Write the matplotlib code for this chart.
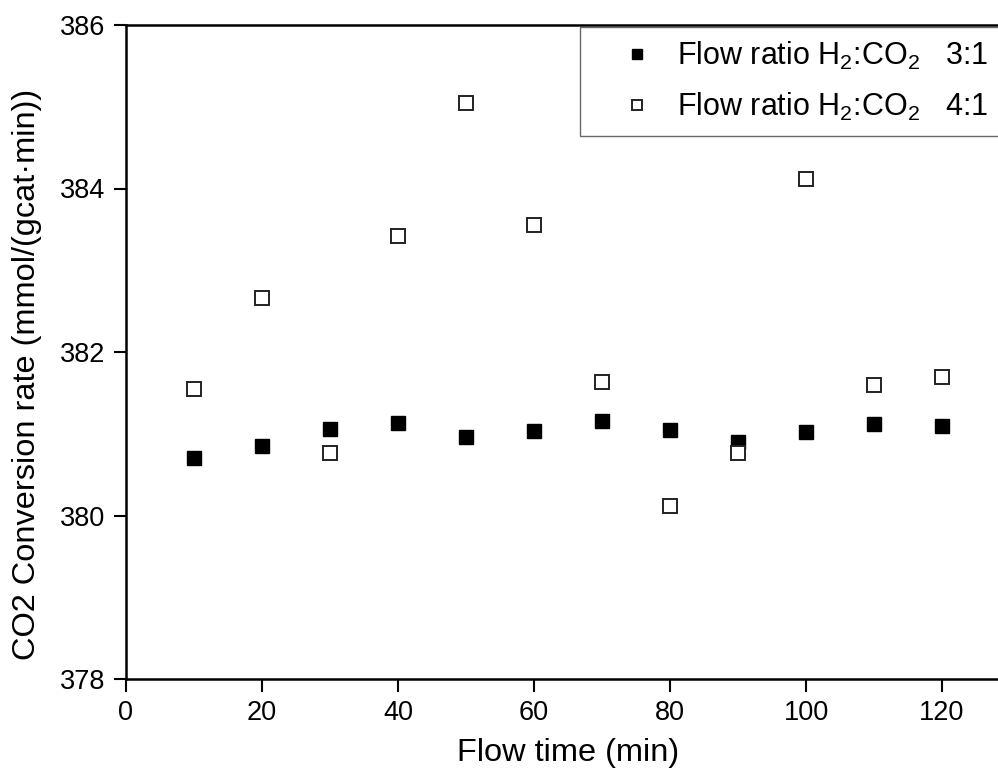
import matplotlib
matplotlib.use("Agg")
import matplotlib.pyplot as plt

plt.rcParams['font.family'] = ['Liberation Sans', 'DejaVu Sans']
plt.rcParams['mathtext.fontset'] = 'custom'
plt.rcParams['mathtext.rm'] = 'Liberation Sans'
plt.rcParams['mathtext.it'] = 'Liberation Sans'

flow_time = [10, 20, 30, 40, 50, 60, 70, 80, 90, 100, 110, 120]
ratio_3_1 = [380.70, 380.85, 381.06, 381.13, 380.96, 381.03, 381.16, 381.05, 380.90, 381.02, 381.12, 381.09]
ratio_4_1 = [381.55, 382.66, 380.77, 383.42, 385.05, 383.55, 381.63, 380.12, 380.77, 384.12, 381.60, 381.69]
label_3_1 = 'Flow ratio H$_2$:CO$_2$   3:1'
label_4_1 = 'Flow ratio H$_2$:CO$_2$   4:1'
x_ticks = [0, 20, 40, 60, 80, 100, 120]
y_ticks = [378, 380, 382, 384, 386]

fig = plt.figure(figsize=(9.98, 7.78), dpi=100)
ax = fig.add_axes([126/998, 99/778, 884/998, 654/778])

ax.plot(flow_time, ratio_3_1, linestyle='none', marker='s', markersize=10,
        markerfacecolor='black', markeredgecolor='black', markeredgewidth=1, label=label_3_1)
ax.plot(flow_time, ratio_4_1, linestyle='none', marker='s', markersize=9.5,
        markerfacecolor='white', markeredgecolor='#222222', markeredgewidth=1.4, label=label_4_1)

ax.set_xlim(0, 130)
ax.set_ylim(378, 386)
ax.set_xticks(x_ticks)
ax.set_yticks(y_ticks)
ax.tick_params(direction='out', length=9, width=1.5, labelsize=19.5, pad=6,
               top=False, right=False)
for s in ax.spines.values():
    s.set_linewidth(1.8)

ax.set_xlabel('Flow time (min)', fontsize=23.4, labelpad=9)
ax.set_ylabel('CO2 Conversion rate (mmol/(gcat·min))', fontsize=23.4)
ax.yaxis.set_label_coords(-0.095, 0.466)

leg = ax.legend(loc='upper left', bbox_to_anchor=(580/998, 1 - 27/778),
                bbox_transform=fig.transFigure, fontsize=22, frameon=True,
                fancybox=False, edgecolor='#444444', borderpad=0.42,
                handlelength=2.9, handletextpad=-0.15, labelspacing=0.63,
                borderaxespad=0, markerscale=0.75)
leg.get_frame().set_linewidth(1.0)

fig.savefig('out.png', dpi=100)
